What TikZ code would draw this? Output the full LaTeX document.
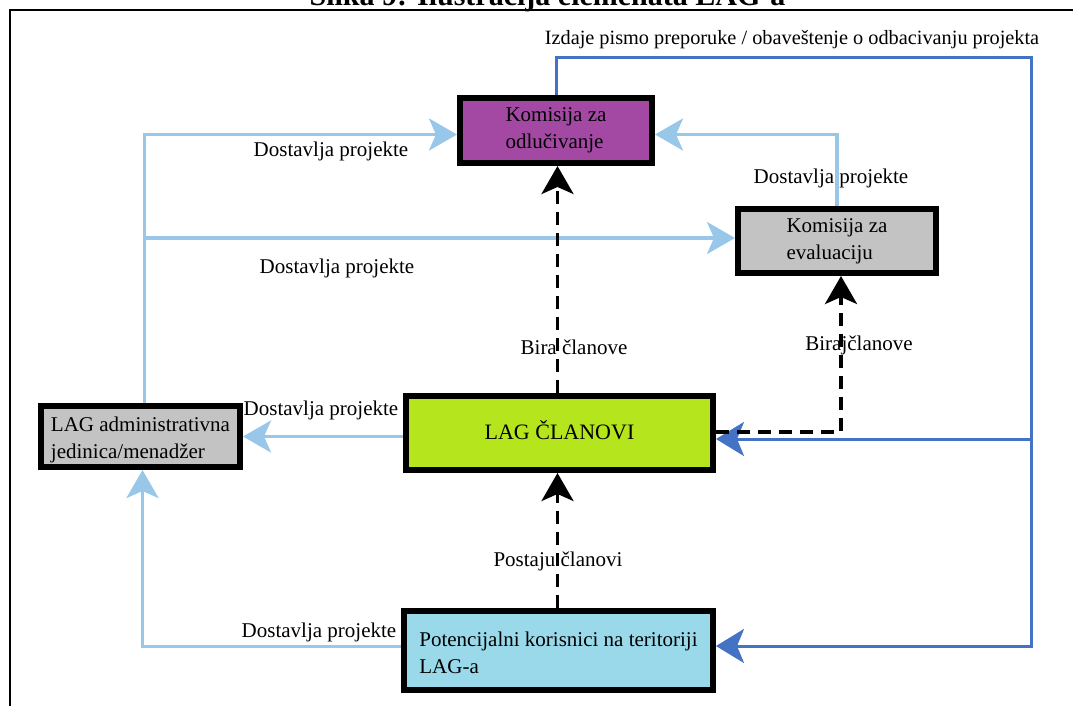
\documentclass[tikz,border=0pt]{standalone}
\usepackage{fontspec}
\setmainfont{Liberation Serif}
\usetikzlibrary{arrows.meta}

\definecolor{lagpurple}{RGB}{163,73,164}
\definecolor{laglime}{RGB}{181,230,29}
\definecolor{laggray}{RGB}{195,195,195}
\definecolor{lagcyan}{RGB}{153,217,234}
\definecolor{flowlight}{RGB}{153,199,234}
\definecolor{flowdark}{RGB}{68,114,196}

\newcommand\boxfont{\fontsize{21}{27}\selectfont}
\newcommand\lblfont{\fontsize{21}{25}\selectfont}
% taller first line: moves a two-line block down by half the extra height
\newcommand\lowerstrut[1]{\rule{0pt}{#1}}

\tikzset{
  box/.style={rectangle, draw=black, line width=6pt, inner sep=0pt,
    font=\boxfont, align=left},
  lbl/.style={font=\lblfont, inner sep=0pt},
  lightflow/.style={color=flowlight, line width=3.5pt, line join=miter,
    -{Stealth[length=28pt,width=32pt,inset=7pt]}},
  darkflow/.style={color=flowdark, line width=3pt, line join=miter,
    -{Stealth[length=28pt,width=34pt,inset=7pt]}},
  member/.style={color=black, line width=3.5pt, dash pattern=on 13pt off 8pt,
    -{Stealth[length=28pt,width=32pt,inset=7pt]}},
}

\begin{document}
\begin{tikzpicture}[x=1pt,y=-1pt]
\useasboundingbox (0,0) rectangle (1073,705);
\clip (0,0) rectangle (1073,705);
\fill[white] (0,0) rectangle (1073,705);

% caption and frame
\node[font=\fontsize{30}{36}\selectfont\bfseries, anchor=base, inner sep=0pt]
  (title) at (547.5,5) {Slika 9: Ilustracija elemenata LAG-a};
\draw[line width=2.5pt] (10,720) -- (10,10) -- (1090,10);

% boxes
\node[box, fill=lagpurple, minimum width=192pt, minimum height=65pt]
  (odl) at (556,130.5) {Komisija za\\odlučivanje};
\node[box, fill=laggray, minimum width=198pt, minimum height=64pt]
  (eval) at (837,241) {Komisija za\\evaluaciju};
\node[box, fill=laglime, minimum width=307pt, minimum height=74pt]
  (lag) at (559.5,433) {\fontsize{22}{26}\selectfont\raisebox{5pt}{LAG ČLANOVI}};
\node[box, fill=laggray, minimum width=199pt, minimum height=61pt]
  (adm) at (140.5,436.5) {\lowerstrut{21pt}LAG administrativna\\jedinica/menadžer};
\node[box, fill=lagcyan, minimum width=309pt, minimum height=79pt]
  (pot) at (558.5,650.5) {\lowerstrut{19pt}Potencijalni korisnici na teritoriji\\LAG-a};

% project submissions
\coordinate (potout) at ([yshift=4pt]pot.west);
\draw[lightflow] (potout) -| ([xshift=2pt]adm.south);
\draw[lightflow] (lag.west |- adm.east) -- (adm.east);
\draw[lightflow] ([xshift=4pt]adm.north) |- ([yshift=-4pt]odl.west);
\coordinate (evalin) at ([yshift=3pt]eval.west);
\draw[lightflow] ([xshift=4pt]adm.north |- evalin) -- (evalin);
\draw[lightflow] (eval.north) |- ([yshift=-4pt]odl.east);

% recommendation / rejection notices
\coordinate (corner) at (1031,57);
\coordinate (lagin) at ([yshift=-6pt]lag.east);
\draw[darkflow] (odl.north) |- (corner) |- ([yshift=4.5pt]pot.east);
\draw[darkflow] (corner |- lagin) -- (lagin);

% membership relations
\draw[member] (lag.north -| 557.5,0) -- (odl.south -| 557.5,0);
\draw[member] ([yshift=1pt]lag.east) -| ([xshift=4pt]eval.south);
\draw[member] (pot.north -| 557.5,0) -- (lag.south -| 557.5,0);

% labels
\node[lbl] (l1) at (331,151.5) {Dostavlja projekte};
\node[lbl] (l2) at (337,268) {Dostavlja projekte};
\node[lbl] (l3) at (831,178) {Dostavlja projekte};
\node[lbl] (l4) at (321,410.5) {Dostavlja projekte};
\node[lbl] (l5) at (319,632) {Dostavlja projekte};
\node[lbl] (l6) at (574,347) {Bira članove};
\node[lbl] (l7) at (859,345) {Birajčlanove};
\node[lbl] (l8) at (558,561.5) {Postaju članovi};
\node[lbl, font=\fontsize{20.3}{24}\selectfont] (l9) at (792,40)
  {Izdaje pismo preporuke / obaveštenje o odbacivanju projekta};
\end{tikzpicture}
\end{document}
